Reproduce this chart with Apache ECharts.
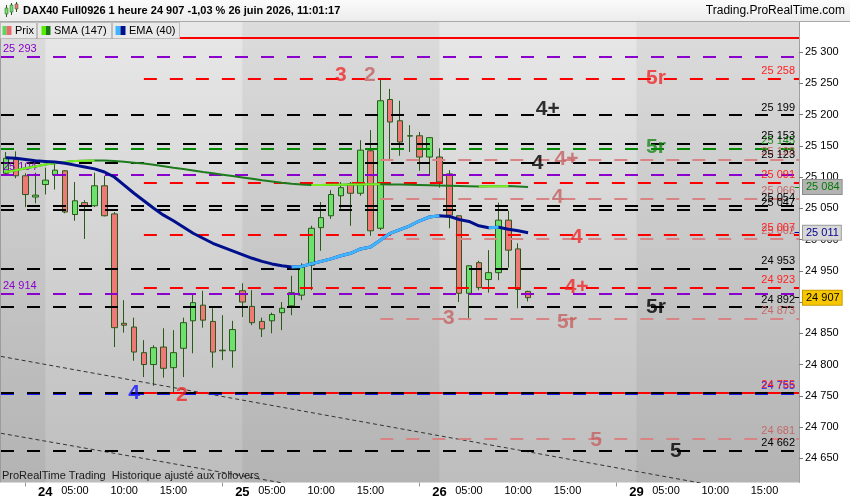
<!DOCTYPE html>
<html><head><meta charset="utf-8">
<script src="https://cdn.jsdelivr.net/npm/echarts@6/dist/echarts.min.js"></script>
<style>html,body{margin:0;padding:0;background:#fff}#c{width:850px;height:500px}</style>
</head><body><div id="c"></div>
<script>
// ---------- DATA ----------
const days = ['23','24','25','26','29'];
const hoursFull = [2,3,4,5,6,7,8,9,10,11,12,13,14,15,16,17,18,19,20,21];
const dayHours = [[18,19,20,21], hoursFull, hoursFull, hoursFull, [2,3,4,5,6,7,8,9,10,11,12,13,14,15,16,17,18]];
const labelHours = [5,10,15];
const yTicks = [24650,24700,24750,24800,24850,24900,24950,25000,25050,25100,25150,25200,25250,25300];

// [open, close, low, high]
const candles = [
[25106,25130,25103,25140],[25128,25102,25098,25141],[25102,25072,25052,25106],[25068,25071,25058,25107],
[25088,25095,25072,25115],[25103,25111,25080,25122],[25110,25044,25042,25111],[25040,25062,25030,25092],
[25059,25054,25001,25063],[25054,25086,25052,25107],[25086,25038,25037,25102],[25041,24859,24828,25044],
[24866,24863,24851,24903],[24860,24820,24806,24875],[24819,24800,24780,24839],[24800,24827,24766,24831],
[24828,24794,24779,24858],[24795,24819,24755,24855],[24826,24867,24780,24875],[24870,24899,24818,24913],
[24895,24871,24859,24918],[24869,24820,24795,24890],[24823,24822,24807,24879],[24822,24856,24795,24870],
[24918,24900,24876,24930],[24893,24867,24863,24919],[24869,24857,24844,24875],[24870,24880,24850,24883],
[24883,24890,24855,24900],[24894,24915,24879,24942],[24911,24956,24903,24962],[24959,25018,24919,25022],
[25019,25035,24982,25060],[25038,25072,25033,25079],[25070,25083,25049,25092],[25089,25074,25022,25092],
[25074,25143,25070,25159],[25142,25014,25006,25175],[25018,25222,25015,25258],[25224,25188,25127,25241],
[25190,25156,25134,25222],[25165.5,25166,25140,25183],[25166,25132,25110,25172],[25132,25163,25103,25164],
[25132,25092,25083,25146],[25105,25039,25018,25111],[25038,24914,24900,25039],[24914,24958,24871,24959],
[24963,24923,24919,24966],[24936,24947,24915,24983],[24947,25031,24935,25059],[25031,24983,24955,25046],
[24985,24920,24890,24994],[24917,24907,24901,24918]
];
const sma147 = [25108,25111,25114,25117,25120,25122,25124,25125.5,25126.2,25126.5,25126.3,25125.6,25124.5,25123,
25121.5,25119.5,25117.3,25115,25112.8,25110.5,25108.2,25106,25103.8,25101.6,25099.4,25097.2,25095,25093,25091,
25089.3,25088,25087.3,25087.4,25087.6,25087.8,25088,25088.2,25088.4,25088.5,25088.2,25087.9,25087.6,25087.3,
25087,25086.6,25086.2,25085.8,25085.4,25085,25085.2,25085.4,25085.5,25084.8,25084];
const ema40 = [25131,25130,25128,25126,25125,25124,25122,25119,25116,25113,25108,25100,25087,25074,25062,25050,
25039,25030,25020,25010,25002,24994,24988,24982,24976,24970,24965,24961,24958,24956,24957,24961,24965,24969,
24974,24978,24985,24988,24999,25010,25016,25022,25030,25036,25038,25037,25032,25029,25022,25019,25019.6,
25016.5,25014,25011];

const blackLevels  = [25199, 25153, 25123, 25054, 25047, 24953, 24892, 24755, 24662];
const redLevels    = [25258, 25091, 25007, 24923, 24755];
const pinkLevels   = [25128, 25066, 25002, 24873, 24681];
const greenLevels  = [25145];
const purpleLevels = [25293, 25104, 24914];
const blueLevels   = [24755];
const topRedLevel  = 25323;
const redStartBar  = 14;
const pinkStartBar = 38;

// trend lines: [bar, price] pairs
const trend1 = [[-0.5, 24813], [80.5, 24582]];
const trend2 = [[-0.5, 24690], [40.5, 24576]];

// wave labels: [text, bar, price]
const redWaves   = [['3',34.0,25263],['5r',65.98,25258.4],['4',57.96,25004],['4+',57.93,24924],['2',17.86,24750.5]];
const pinkWaves  = [['2',36.95,25263],['4+',56.9,25128.8],['4',56.0,25068],['5r',56.94,24868],['3',44.97,24874.5],['5',59.9,24679.3]];
const blackWaves = [['4+',55.0,25208.8],['4',53.97,25122.4],['5r',65.98,24892],['5',68.0,24661.7]];
const greenWaves = [['5r',65.98,25148]];
const blueWaves  = [['4',13.0,24754.5]];

// ---------- BUILD ----------
const FONT = "'Liberation Sans', Arial, sans-serif";
function fmt(v){ const s = String(Math.round(v)); return s.slice(0, s.length-3) + ' ' + s.slice(-3); }
const categories = [];
const dayStart = [];
days.forEach((d,k)=>{ dayStart.push(categories.length); dayHours[k].forEach(h=>categories.push(d+'-'+h)); });
const N = categories.length;
const XMAX = N - 0.5;

function risingOnly(arr){
  return arr.map((v,i)=> ((i>0 && arr[i]>arr[i-1]) || (i<arr.length-1 && arr[i+1]>arr[i])) ? v : null);
}
function level(price, start, color, offset, labelPos, text, labelColor){
  const item = [{coord:[start, price], lineStyle:{color:color, width:2, type:[13,13], dashOffset:offset}},
                {coord:[XMAX, price]}];
  if (text) {
    item[0].label = {show:true, position:labelPos, formatter:text, color:labelColor||color, fontSize:11,
      fontFamily:FONT, distance: labelPos==='insideStartTop' ? [2,2] : [4,2]};
  } else {
    item[0].label = {show:false};
  }
  return item;
}
const levelData = [];
blueLevels.forEach(p=>levelData.push(level(p-1.2, -0.5, '#1a1aff', 0, 'insideEndTop', fmt(p), '#2020ff')));
purpleLevels.forEach(p=>levelData.push(level(p, -0.5, '#8a00cc', 0, 'insideStartTop', fmt(p))));
greenLevels.forEach(p=>levelData.push(level(p, -0.5, '#008a00', 0, 'insideEndTop', fmt(p), '#1a8a1a')));
pinkLevels.forEach(p=>levelData.push(level(p, pinkStartBar, '#d98484', 0, 'insideEndTop', fmt(p), '#c46a6a')));
blackLevels.forEach(p=>levelData.push(level(p, -0.5, '#000000', 0, 'insideEndTop', blueLevels.includes(p)?null:fmt(p))));
redLevels.forEach(p=>levelData.push(level(p, redStartBar, '#ff0000', 0, 'insideEndTop', fmt(p), '#ff2020')));
levelData.push([{coord:[-0.5, topRedLevel], lineStyle:{color:'#ff0000', width:2, type:'solid'}, label:{show:false}},{coord:[XMAX, topRedLevel]}]);

function waveSeries(list, color){
  return {type:'scatter', xAxisIndex:1, yAxisIndex:0, z:8, silent:true, animation:false,
    symbolSize:1, itemStyle:{color:'rgba(0,0,0,0)'},
    data:list.map(w=>[w[1], w[2], w[0]]),
    label:{show:true, position:'inside', formatter:p=>p.data[2], color:color, fontSize:21, fontWeight:'bold', fontFamily:FONT}};
}
function marker(value, lineColor, bg, border, txtColor){
  return [{coord:[XMAX-0.45, value], lineStyle:{color:lineColor, width:1, type:'solid'},
     label:{show:true, position:'end', distance:4, formatter:fmt(value), backgroundColor:bg, borderColor:border,
       borderWidth:1, padding:[2,2,1,3], color:txtColor, fontSize:11, fontFamily:FONT}},
     {coord:[XMAX, value]}];
}
const lastClose = candles[candles.length-1][1];

const darkBands = [[-0.5, dayStart[1]], [dayStart[2], dayStart[3]], [dayStart[4], XMAX]];

const chart = echarts.init(document.getElementById('c'));
chart.setOption({
  animation:false,
  backgroundColor:'#ffffff',
  grid:{left:1, right:51, top:22, bottom:17.5, show:true, borderWidth:0,
    backgroundColor:{type:'linear', x:0, y:0, x2:0, y2:1, colorStops:[{offset:0,color:'#e8e8e8'},{offset:1,color:'#bdbdbd'}]}},
  xAxis:[
    {type:'category', data:categories, boundaryGap:true,
     axisLine:{show:false, onZero:false},
     axisTick:{show:true, alignWithLabel:true, interval:(i,v)=>v.split('-')[1]==='20', length:4, lineStyle:{color:'#9a9a9a'}},
     axisLabel:{margin:3, fontFamily:FONT,
       interval:(i,v)=>{const h=+v.split('-')[1]; return h===2 || labelHours.includes(h);},
       formatter:(v)=>{const [d,h]=v.split('-'); const hh=+h; return hh===2 ? '{d|'+d+'}' : '{t|'+(hh<10?'0':'')+hh+':00}';},
       rich:{d:{fontWeight:'bold', fontSize:13, color:'#000', fontFamily:FONT}, t:{fontSize:11, color:'#000', fontFamily:FONT}}},
     splitLine:{show:false}},
    {type:'value', min:-0.5, max:XMAX, show:false, axisLine:{onZero:false}}
  ],
  yAxis:[{type:'value', position:'right', min:24611.3, max:25348,
    axisLine:{show:true, onZero:false, lineStyle:{color:'#a0a0a0'}},
    axisTick:{show:true, length:4, customValues:yTicks, lineStyle:{color:'#777'}},
    axisLabel:{customValues:yTicks, formatter:fmt, color:'#000', fontSize:11, margin:6, fontFamily:FONT},
    splitLine:{show:false}}],
  series:[
    {type:'line', xAxisIndex:1, z:1, silent:true, data:[[-0.5, 24000]], showSymbol:false, lineStyle:{opacity:0},
     markArea:{silent:true, itemStyle:{color:'rgba(0,0,0,0.05)'}, data:darkBands.map(b=>[{xAxis:b[0]},{xAxis:b[1]}])}},
    {type:'candlestick', xAxisIndex:0, z:3, silent:true, barWidth:6, data:candles,
     itemStyle:{color:'#6ee06e', color0:'#f07878', borderColor:'#2a5a18', borderColor0:'#2a5a18', borderWidth:1}},
    {type:'line', xAxisIndex:1, z:4, silent:true, data:trend1, showSymbol:false,
     lineStyle:{color:'#333', width:1, type:[4,3]},
     markLine:{silent:true, symbol:['none','none'], animation:false, data:levelData}},
    {type:'line', xAxisIndex:1, z:4, silent:true, data:trend2, showSymbol:false, lineStyle:{color:'#333', width:1, type:[4,3]}},
    {type:'line', xAxisIndex:0, z:5, silent:true, data:sma147, showSymbol:false, lineStyle:{color:'#1d7a1d', width:2}},
    {type:'line', xAxisIndex:0, z:5, silent:true, data:risingOnly(sma147), showSymbol:false, lineStyle:{color:'#77ee22', width:2}},
    {type:'line', xAxisIndex:0, z:5, silent:true, data:ema40, showSymbol:false, lineStyle:{color:'#00108c', width:3}},
    {type:'line', xAxisIndex:0, z:5, silent:true, data:risingOnly(ema40), showSymbol:false, lineStyle:{color:'#40b4ff', width:3}},
    waveSeries(pinkWaves, '#c46262'),
    waveSeries(redWaves, '#f02828'),
    waveSeries(blackWaves, '#000000'),
    waveSeries(greenWaves, '#1a8a1a'),
    waveSeries(blueWaves, '#1515ff'),
    {type:'line', xAxisIndex:1, z:9, silent:true, data:[[-0.5, 24000]], showSymbol:false, lineStyle:{opacity:0},
     markLine:{silent:true, symbol:['none','none'], animation:false, data:[
       marker(sma147[sma147.length-1], '#008a00', '#b3b3b3', '#8c8c8c', '#007a00'),
       marker(ema40[ema40.length-1], '#0000aa', '#d8d8d8', '#9a9a9a', '#00008b'),
       marker(lastClose, '#000000', '#f7c600', '#c89c00', '#000000')
     ]}}
  ],
  graphic:[
    {type:'rect', z:100, shape:{x:0,y:0,width:850,height:21},
     style:{fill:{type:'linear',x:0,y:0,x2:0,y2:1,colorStops:[{offset:0,color:'#fbfbfb'},{offset:1,color:'#ececec'}]}}},
    {type:'line', z:101, shape:{x1:0,y1:21.5,x2:850,y2:21.5}, style:{stroke:'#a9a9a9', lineWidth:1}},
    // small candle icon
    {type:'line', z:102, shape:{x1:6.5,y1:5,x2:6.5,y2:17}, style:{stroke:'#2a5a18'}},
    {type:'rect', z:103, shape:{x:5,y:8,width:3,height:6}, style:{fill:'#6ee06e', stroke:'#2a5a18', lineWidth:0.5}},
    {type:'line', z:102, shape:{x1:11.5,y1:3,x2:11.5,y2:15}, style:{stroke:'#2a5a18'}},
    {type:'rect', z:103, shape:{x:10,y:5,width:3,height:7}, style:{fill:'#6ee06e', stroke:'#2a5a18', lineWidth:0.5}},
    {type:'line', z:102, shape:{x1:16.5,y1:2,x2:16.5,y2:12}, style:{stroke:'#2a5a18'}},
    {type:'rect', z:103, shape:{x:15,y:4,width:3,height:5}, style:{fill:'#f07878', stroke:'#2a5a18', lineWidth:0.5}},
    {type:'text', z:103, x:23, y:11, style:{text:'DAX40 Full0926 1 heure 24 907 -1,03 % 26 juin 2026, 11:01:17',
      fill:'#000', font:'bold 11px '+FONT, textVerticalAlign:'middle'}},
    {type:'text', z:103, x:845, y:11, style:{text:'Trading.ProRealTime.com', fill:'#000', font:'12px '+FONT,
      textAlign:'right', textVerticalAlign:'middle'}},
    // legend boxes
    {type:'rect', z:100, shape:{x:0.5,y:22.5,width:36,height:16}, style:{fill:'#e9e9e9', stroke:'#bdbdbd'}},
    {type:'rect', z:100, shape:{x:37.5,y:22.5,width:74,height:16}, style:{fill:'#e9e9e9', stroke:'#bdbdbd'}},
    {type:'rect', z:100, shape:{x:112.5,y:22.5,width:67,height:16}, style:{fill:'#e9e9e9', stroke:'#bdbdbd'}},
    {type:'rect', z:101, shape:{x:2.5,y:26,width:4,height:9}, style:{fill:'#5ed65e'}},
    {type:'rect', z:101, shape:{x:6.5,y:26,width:5,height:9}, style:{fill:'#e86a6a'}},
    {type:'text', z:101, x:15, y:31, style:{text:'Prix', fill:'#000', font:'11px '+FONT, textVerticalAlign:'middle'}},
    {type:'rect', z:101, shape:{x:41.5,y:26,width:4.5,height:9}, style:{fill:'#55ee00'}},
    {type:'rect', z:101, shape:{x:46,y:26,width:4.5,height:9}, style:{fill:'#1a7a1a'}},
    {type:'text', z:101, x:54, y:31, style:{text:'SMA (147)', fill:'#000', font:'11px '+FONT, textVerticalAlign:'middle'}},
    {type:'rect', z:101, shape:{x:115.5,y:26,width:5,height:9}, style:{fill:'#40b4ff'}},
    {type:'rect', z:101, shape:{x:120.5,y:26,width:5,height:9}, style:{fill:'#00108c'}},
    {type:'text', z:101, x:129, y:31, style:{text:'EMA (40)', fill:'#000', font:'11px '+FONT, textVerticalAlign:'middle'}},
    // footer text in plot
    {type:'text', z:50, x:2, y:476, style:{text:'ProRealTime Trading  Historique ajusté aux rollovers', fill:'#1a1a1a',
      font:'11px '+FONT, textVerticalAlign:'middle'}},
    {type:'line', z:50, shape:{x1:0.5,y1:22,x2:0.5,y2:482.5}, style:{stroke:'#9c9c9c', lineWidth:1}}
  ]
});
</script></body></html>
